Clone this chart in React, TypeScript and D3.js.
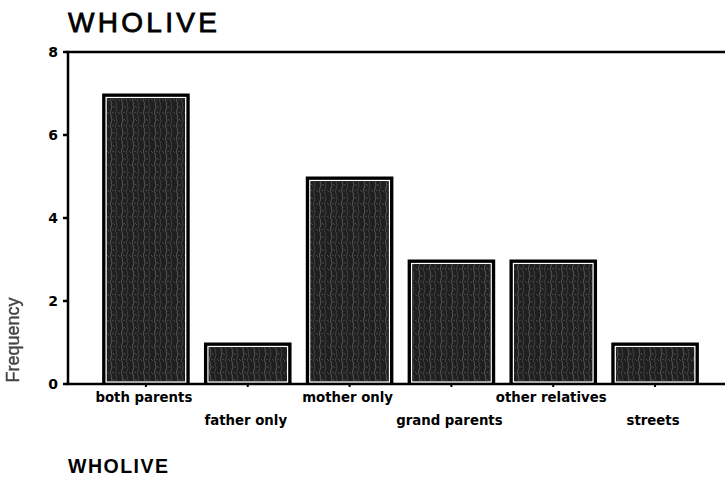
import React from "react";
import * as d3 from "d3";

const categories = ["both parents", "father only", "mother only", "grand parents", "other relatives", "streets"];
const frequencies = [7, 1, 5, 3, 3, 1];
const yTicks = [0, 2, 4, 6, 8];
const title = "WHOLIVE";
const xTitle = "WHOLIVE";
const yTitle = "Frequency";

const W = 725;
const H = 480;

export default function App() {
  const x = d3.scaleBand<string>().domain(categories).range([95, 706]).paddingInner(0.14).paddingOuter(0.07);
  const y = d3.scaleLinear().domain([0, 8]).range([384, 52]);
  const axisLeft = 68;
  const font = "'Liberation Sans', Arial, sans-serif";
  const wide = "'DejaVu Sans', sans-serif";

  return (
    <svg width={W} height={H} style={{ position: "absolute", left: 0, top: 0, background: "#fff" }}>
      <defs>
        <pattern id="tex" width="11" height="13" patternUnits="userSpaceOnUse">
          <rect width="11" height="13" fill="#1f1f1f" />
          <path d="M1 0 Q3 3 1 6 T2 13" stroke="#6e6e6e" strokeWidth="0.7" fill="none" />
          <path d="M6 0 Q8 4 6 7 T7 13" stroke="#555" strokeWidth="0.6" fill="none" />
          <path d="M3 2 L5 4 M8 8 L10 10 M2 9 L4 8" stroke="#777" strokeWidth="0.5" fill="none" />
        </pattern>
        <filter id="blur"><feGaussianBlur stdDeviation="0.7" /></filter>
      </defs>

      <text x={68} y={32} fontFamily={font} fontSize={28} letterSpacing={3.3} stroke="#000" strokeWidth={0.8} fill="#000">
        {title}
      </text>

      {/* plot frame */}
      <line x1={66} x2={W} y1={y(8)} y2={y(8)} stroke="#000" strokeWidth={2.5} />
      <line x1={axisLeft} x2={axisLeft} y1={y(8) - 1} y2={y(0) + 1} stroke="#000" strokeWidth={2.5} />
      <line x1={66} x2={W} y1={y(0)} y2={y(0)} stroke="#000" strokeWidth={2.5} />

      {yTicks.map((t) => (
        <g key={t}>
          <line x1={63} x2={axisLeft} y1={y(t)} y2={y(t)} stroke="#000" strokeWidth={2.5} />
          <text x={58} y={y(t) + 5} textAnchor="end" fontFamily={wide} fontWeight="bold" fontSize={14} fill="#000">
            {t}
          </text>
        </g>
      ))}

      {categories.map((c, i) => {
        const bx = x(c)!;
        const bw = x.bandwidth();
        const top = y(frequencies[i]);
        const bottom = y(0);
        const h = bottom - top;
        const cx = bx + bw / 2;
        return (
          <g key={c}>
            <rect x={bx} y={top} width={bw} height={h} fill="#000" />
            <rect x={bx + 4} y={top + 4} width={bw - 8} height={h - 6} fill="none" stroke="#fff" strokeWidth={1.3} />
            <rect x={bx + 5} y={top + 5} width={bw - 10} height={h - 8} fill="url(#tex)" />
            <line x1={cx} x2={cx} y1={bottom} y2={bottom + 3} stroke="#000" strokeWidth={2} />
            <text
              x={cx - 2}
              y={i % 2 === 0 ? 402 : 425}
              textAnchor="middle"
              fontFamily={wide}
              fontWeight="bold"
              fontSize={13.3}
              fill="#000"
            >
              {c}
            </text>
          </g>
        );
      })}

      <text
        transform={`translate(19,340) rotate(-90)`}
        textAnchor="middle"
        fontFamily={font}
        fontSize={18}
        fill="#444"
        stroke="#444"
        strokeWidth={0.4}
        filter="url(#blur)"
      >
        {yTitle}
      </text>

      <text x={68} y={473} fontFamily={font} fontWeight="bold" fontSize={19.5} letterSpacing={1.5} fill="#000">
        {xTitle}
      </text>
    </svg>
  );
}
